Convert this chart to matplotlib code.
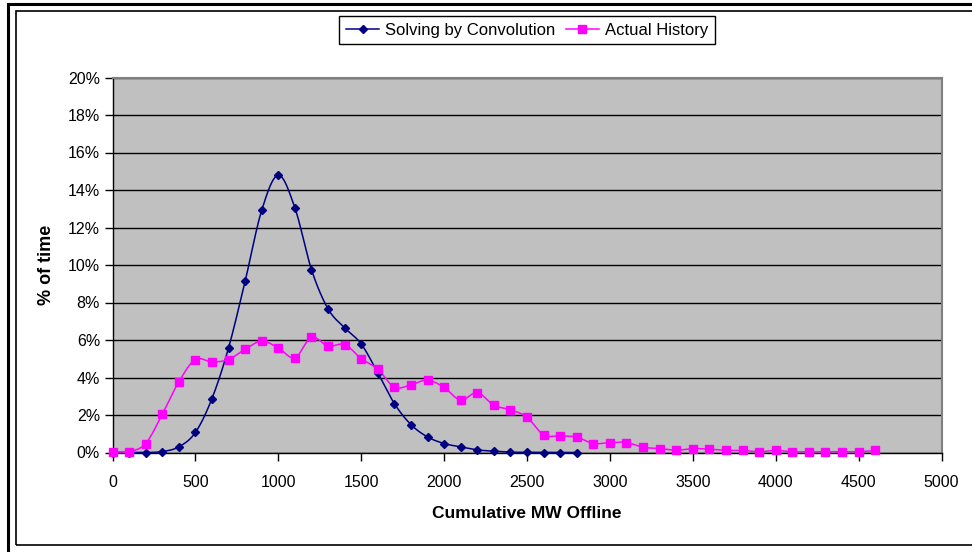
import numpy as np
import matplotlib.pyplot as plt
from matplotlib.patches import Rectangle
from matplotlib.ticker import FuncFormatter

plt.rcParams['font.family'] = ['Liberation Sans', 'DejaVu Sans']

# MW offline (x) and % of time (y)
conv_mw = list(range(0, 2900, 100))
conv_pct = [0.0, 0.0, 0.0, 0.05, 0.3, 1.07, 2.88, 5.58, 9.14, 12.92, 14.79,
            13.05, 9.76, 7.66, 6.65, 5.79, 4.25, 2.61, 1.49, 0.83, 0.48, 0.30,
            0.14, 0.07, 0.02, 0.01, 0.0, 0.0, 0.0]

hist_mw = list(range(0, 4700, 100))
hist_pct = [0.05, 0.05, 0.48, 2.03, 3.77, 4.96, 4.83, 4.96, 5.51, 5.94, 5.58,
            5.05, 6.15, 5.67, 5.76, 5.01, 4.44, 3.48, 3.61, 3.86, 3.47, 2.79,
            3.2, 2.52, 2.28, 1.88, 0.94, 0.89, 0.82, 0.48, 0.53, 0.53, 0.28,
            0.21, 0.12, 0.21, 0.18, 0.11, 0.11, 0.04, 0.11, 0.04, 0.04, 0.04,
            0.04, 0.04, 0.11]


def smooth(x, y, n=20):
    # Catmull-Rom spline, close to Excel's smoothed line
    x = np.asarray(x, float)
    y = np.asarray(y, float)
    px = np.concatenate([[x[0]], x, [x[-1]]])
    py = np.concatenate([[y[0]], y, [y[-1]]])
    t = np.linspace(0, 1, n, endpoint=False)[:, None]
    out_x, out_y = [], []
    for i in range(1, len(px) - 2):
        for p, out in ((px, out_x), (py, out_y)):
            p0, p1, p2, p3 = p[i - 1], p[i], p[i + 1], p[i + 2]
            seg = 0.5 * ((2 * p1) + (-p0 + p2) * t
                         + (2 * p0 - 5 * p1 + 4 * p2 - p3) * t ** 2
                         + (-p0 + 3 * p1 - 3 * p2 + p3) * t ** 3)
            out.extend(seg.ravel())
    out_x.append(x[-1])
    out_y.append(y[-1])
    return np.array(out_x), np.array(out_y)


fig = plt.figure(figsize=(9.72, 5.52), dpi=100)
W, H = 972, 552

# outer frames
fig.patches.append(Rectangle((8 / W, -0.1), 1.2, 1 - 4 / H + 0.1, transform=fig.transFigure,
                             fill=False, edgecolor='black', lw=2.2))
fig.patches.append(Rectangle((16 / W, 1 - 545 / H), 1.2, (545 - 11) / H, transform=fig.transFigure,
                             fill=False, edgecolor='black', lw=1.2))

ax = fig.add_axes([112.5 / W, 1 - 452.5 / H, (941.5 - 112.5) / W, (452.5 - 77.5) / H])
ax.set_facecolor('#C0C0C0')

navy = '#000080'
pink = '#FF00FF'

sx, sy = smooth(conv_mw, conv_pct)
ax.plot(sx, sy, color=navy, lw=1.1, clip_on=False, zorder=3)
ax.plot(conv_mw, conv_pct, ls='none', marker='D', ms=4.5, color=navy,
        clip_on=False, zorder=4)
hx, hy = smooth(hist_mw, hist_pct)
ax.plot(hx, hy, color=pink, lw=1.1, clip_on=False, zorder=3)
ax.plot(hist_mw, hist_pct, ls='none', marker='s', ms=5.5, color=pink,
        clip_on=False, zorder=4)

# legend proxies
ax.plot([], [], color=navy, lw=1.1, marker='D', ms=4.5, label='Solving by Convolution')
ax.plot([], [], color=pink, lw=1.1, marker='s', ms=5.5, label='Actual History')

ax.set_xlim(0, 5000)
ax.set_ylim(0, 20)
ax.set_xticks(np.arange(0, 5001, 500))
ax.set_yticks(np.arange(0, 21, 2))
ax.yaxis.set_major_formatter(FuncFormatter(lambda v, p: f'{v:.0f}%'))
ax.grid(axis='y', color='black', lw=1.0)
ax.set_axisbelow(True)

for s in ('top', 'right'):
    ax.spines[s].set_color('#808080')
    ax.spines[s].set_linewidth(1.5)
for s in ('left', 'bottom'):
    ax.spines[s].set_color('black')
    ax.spines[s].set_linewidth(1.0)
ax.tick_params(direction='out', length=6, width=1, labelsize=11.5, colors='black', pad=3)
ax.tick_params(axis='x', pad=10)

ax.set_xlabel('Cumulative MW Offline', fontsize=12.5, fontweight='bold', labelpad=12)
ax.set_ylabel('% of time', fontsize=13, fontweight='bold', labelpad=9)

handles, labels = ax.get_legend_handles_labels()
leg = fig.legend(handles[-2:], labels[-2:], ncol=2, loc='upper center',
                 bbox_to_anchor=(527 / W, 1 - 11 / H), frameon=True, fancybox=False,
                 edgecolor='black', fontsize=12, handlelength=2.0, handletextpad=0.35,
                 columnspacing=0.6, borderpad=0.4, borderaxespad=0.3, framealpha=1)
leg.get_frame().set_linewidth(1.0)

fig.savefig('out.png', dpi=100)
